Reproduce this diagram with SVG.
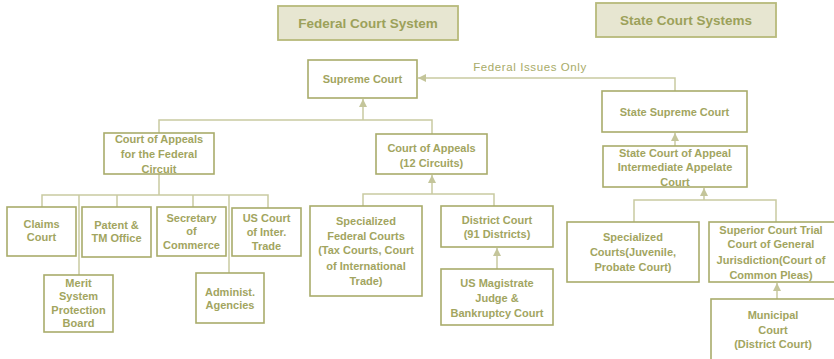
<svg xmlns="http://www.w3.org/2000/svg" width="834" height="359" viewBox="0 0 834 359">
<defs>
<style>
.box{fill:#ffffff;stroke:#a9ac6b;stroke-width:1.6}
.title{fill:#e7e6d1;stroke:#b7ba7b;stroke-width:1.8}
.t{font-family:"Liberation Sans",Arial,sans-serif;font-weight:bold;font-size:11px;fill:#a2a55f;text-anchor:middle}
.tt{font-family:"Liberation Sans",Arial,sans-serif;font-weight:bold;font-size:13.5px;fill:#9ca15a;text-anchor:middle}
.lbl{font-family:"Liberation Sans",Arial,sans-serif;font-size:11.5px;fill:#a8ab68;letter-spacing:0.6px}
.c{fill:none;stroke:#c9caa1;stroke-width:1.5}
</style>
<marker id="ah" markerUnits="userSpaceOnUse" markerWidth="9" markerHeight="9" refX="8" refY="4" orient="auto">
<path d="M0,0 L8,4 L0,8 z" fill="#c4c59a"/>
</marker>
</defs>
<rect width="834" height="359" fill="#ffffff"/>

<g id="connectors">
<path class="c" d="M675,91 V78 H418" marker-end="url(#ah)"/>
<path class="c" d="M159,133 V120 H432 V134"/>
<path class="c" d="M363,120 V99" marker-end="url(#ah)"/>
<path class="c" d="M159,174 V195"/>
<path class="c" d="M42,207 V195 H268 V208"/>
<path class="c" d="M79,195 V275"/>
<path class="c" d="M117,195 V207"/>
<path class="c" d="M193,195 V207"/>
<path class="c" d="M229,195 V273"/>
<path class="c" d="M363,206 V194 H494 V206"/>
<path class="c" d="M432,194 V175" marker-end="url(#ah)"/>
<path class="c" d="M497,269 V248" marker-end="url(#ah)"/>
<path class="c" d="M675,146 V133" marker-end="url(#ah)"/>
<path class="c" d="M634,222 V200 H776 V222"/>
<path class="c" d="M704,200 V188" marker-end="url(#ah)"/>
<path class="c" d="M777,299 V283" marker-end="url(#ah)"/>
<text class="lbl" x="530" y="71" text-anchor="middle">Federal Issues Only</text>
</g>

<g id="federal-title">
<rect class="title" x="278" y="6" width="180" height="34"/>
<text class="tt" x="368" y="28">Federal Court System</text>
</g>
<g id="state-title">
<rect class="title" x="596" y="3" width="180" height="34"/>
<text class="tt" x="686" y="25">State Court Systems</text>
</g>

<g id="supreme-court">
<rect class="box" x="308" y="60" width="109" height="38"/>
<text class="t" x="362.5" y="83">Supreme Court</text>
</g>

<g id="appeals-federal-circuit">
<rect class="box" x="104" y="133" width="110" height="41"/>
<text class="t" x="159" y="143">Court of Appeals</text>
<text class="t" x="159" y="158">for the Federal</text>
<text class="t" x="159" y="173">Circuit</text>
</g>

<g id="appeals-12-circuits">
<rect class="box" x="376" y="134" width="111" height="40"/>
<text class="t" x="431.5" y="152">Court of Appeals</text>
<text class="t" x="431.5" y="167">(12 Circuits)</text>
</g>

<g id="claims-court">
<rect class="box" x="7" y="207" width="69" height="49"/>
<text class="t" x="41.5" y="228">Claims</text>
<text class="t" x="41.5" y="241">Court</text>
</g>
<g id="patent-office">
<rect class="box" x="82" y="207" width="69" height="50"/>
<text class="t" x="116.5" y="229">Patent &amp;</text>
<text class="t" x="116.5" y="242">TM Office</text>
</g>
<g id="secretary-commerce">
<rect class="box" x="157" y="207" width="69" height="49"/>
<text class="t" x="191.5" y="222">Secretary</text>
<text class="t" x="191.5" y="235">of</text>
<text class="t" x="191.5" y="249">Commerce</text>
</g>
<g id="us-court-inter-trade">
<rect class="box" x="232" y="208" width="69" height="48"/>
<text class="t" x="266.5" y="222">US Court</text>
<text class="t" x="266.5" y="236">of Inter.</text>
<text class="t" x="266.5" y="250">Trade</text>
</g>
<g id="merit-system">
<rect class="box" x="44" y="275" width="69" height="57"/>
<text class="t" x="78.5" y="287">Merit</text>
<text class="t" x="78.5" y="300">System</text>
<text class="t" x="78.5" y="314">Protection</text>
<text class="t" x="78.5" y="327">Board</text>
</g>
<g id="administ-agencies">
<rect class="box" x="196" y="273" width="68" height="50"/>
<text class="t" x="230" y="296">Administ.</text>
<text class="t" x="230" y="309">Agencies</text>
</g>

<g id="specialized-federal">
<rect class="box" x="310" y="206" width="112" height="90"/>
<text class="t" x="366" y="225">Specialized</text>
<text class="t" x="366" y="240">Federal Courts</text>
<text class="t" x="366" y="254">(Tax Courts, Court</text>
<text class="t" x="366" y="270">of International</text>
<text class="t" x="366" y="285">Trade)</text>
</g>
<g id="district-court">
<rect class="box" x="441" y="206" width="112" height="41"/>
<text class="t" x="497" y="224">District Court</text>
<text class="t" x="497" y="238">(91 Districts)</text>
</g>
<g id="us-magistrate">
<rect class="box" x="441" y="269" width="112" height="56"/>
<text class="t" x="497" y="287">US Magistrate</text>
<text class="t" x="497" y="302">Judge &amp;</text>
<text class="t" x="497" y="317">Bankruptcy Court</text>
</g>

<g id="state-supreme">
<rect class="box" x="602" y="91" width="145" height="41"/>
<text class="t" x="674.5" y="116">State Supreme Court</text>
</g>
<g id="state-appeal">
<rect class="box" x="603" y="146" width="144" height="41"/>
<text class="t" x="675" y="157">State Court of Appeal</text>
<text class="t" x="675" y="171">Intermediate Appelate</text>
<text class="t" x="675" y="186">Court</text>
</g>
<g id="specialized-state">
<rect class="box" x="567" y="222" width="132" height="60"/>
<text class="t" x="633" y="241">Specialized</text>
<text class="t" x="633" y="256">Courts(Juvenile,</text>
<text class="t" x="633" y="271">Probate Court)</text>
</g>
<g id="superior-court">
<rect class="box" x="709" y="222" width="126" height="60"/>
<text class="t" x="771" y="234">Superior Court Trial</text>
<text class="t" x="771" y="248">Court of General</text>
<text class="t" x="771" y="264">Jurisdiction(Court of</text>
<text class="t" x="771" y="279">Common Pleas)</text>
</g>
<g id="municipal-court">
<rect class="box" x="711" y="299" width="126" height="70"/>
<text class="t" x="773" y="319">Municipal</text>
<text class="t" x="773" y="334">Court</text>
<text class="t" x="773" y="348">(District Court)</text>
</g>
</svg>
